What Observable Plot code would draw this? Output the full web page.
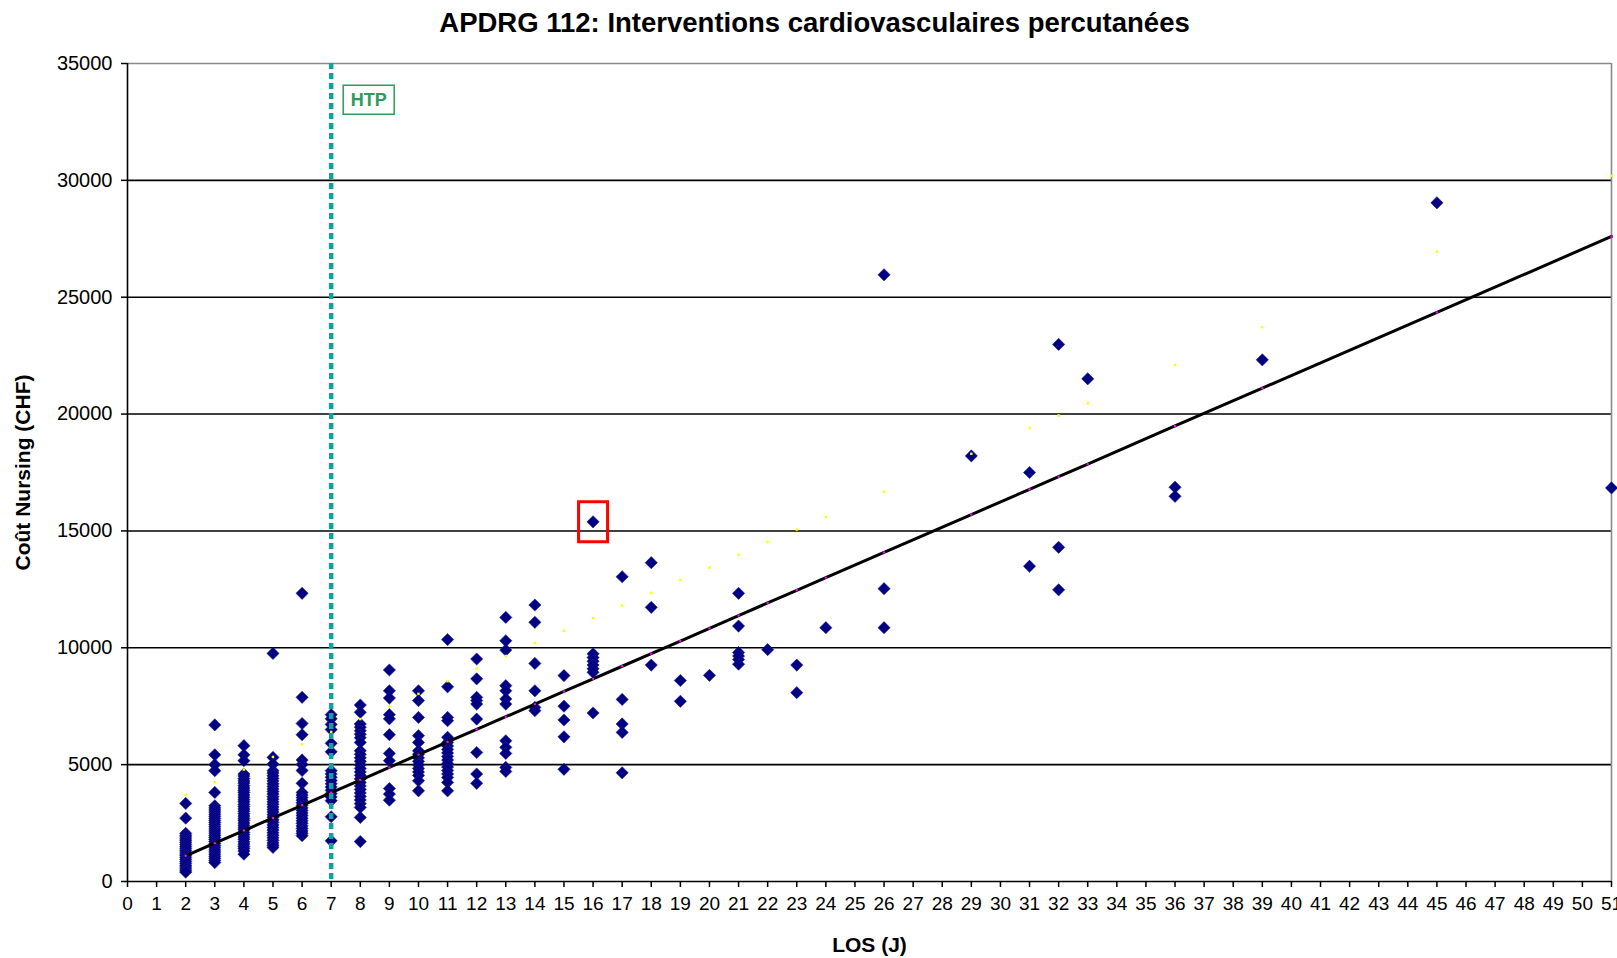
<!DOCTYPE html>
<html><head><meta charset="utf-8">
<script src="https://cdn.jsdelivr.net/npm/d3@7"></script>
<script src="https://cdn.jsdelivr.net/npm/@observablehq/plot@0.6"></script>
<style>
body{margin:0;background:#fff;}
#chart svg{font-family:"Liberation Sans",Arial,sans-serif;background:#fff;}
</style>
</head><body><div id="chart"></div>
<script>
const chartTitle = "APDRG 112: Interventions cardiovasculaires percutanées";
const xLabel = "LOS (J)";
const yLabel = "Coût Nursing (CHF)";
const htpLabel = "HTP";
const xTicks = [0,1,2,3,4,5,6,7,8,9,10,11,12,13,14,15,16,17,18,19,20,21,22,23,24,25,26,27,28,29,30,31,32,33,34,35,36,37,38,39,40,41,42,43,44,45,46,47,48,49,50,51];
const yTicks = [0,5000,10000,15000,20000,25000,30000,35000];

// observed stays: LOS (days) and the nursing costs read for each
const losDays = [2,3,4,5,6,7,8,9,10,11,12,13,14,15,16,17,18,19,20,21,22,23,24,26,29,31,32,33,36,39,45,51];
const nursingCost = [
  [3340,2710,2060,1980,1900,1820,1740,1660,1580,1500,1420,1340,1260,1180,1100,1020,940,860,780,700,620,540,460,400],
  [6700,5420,5000,4740,3810,3240,3150,3060,2970,2880,2790,2700,2610,2520,2430,2340,2250,2160,2070,1980,1890,1800,1710,1620,1530,1440,1350,1260,1170,1080,990,900,810],
  [5810,5420,5170,4600,4510,4400,4300,4210,4100,4000,3900,3810,3700,3600,3500,3410,3300,3200,3100,3010,2900,2800,2700,2610,2500,2400,2300,2210,2100,2000,1900,1810,1700,1600,1500,1410,1300,1170],
  [9760,5310,5020,4740,4640,4520,4410,4300,4180,4070,3960,3850,3740,3630,3520,3410,3300,3190,3080,2970,2860,2750,2640,2530,2420,2310,2200,2090,1980,1870,1760,1650,1550,1460],
  [12330,7880,6760,6280,5200,5010,4750,4200,3810,3700,3590,3480,3370,3260,3150,3040,2930,2820,2710,2600,2490,2380,2270,2160,2060,1960],
  [7140,6960,6720,6500,5910,5550,4740,4600,4460,4320,4180,4040,3900,3760,3620,3460,2770,1740],
  [7550,7240,6740,6600,6450,6300,6150,5950,5590,5440,5290,5140,4990,4840,4690,4540,4390,4240,4090,3940,3790,3640,3490,3330,3170,2740,1710],
  [9050,8160,7850,7140,6960,6280,5480,5170,3980,3740,3480],
  [8160,7740,7020,6240,5950,5590,5440,5290,5140,4990,4840,4690,4540,4310,3880],
  [10350,8330,7020,6880,6170,5950,5800,5650,5500,5350,5200,5050,4900,4750,4600,4450,4240,3880],
  [9520,8670,7880,7740,7590,6950,5520,4600,4200],
  [11300,10300,9900,8380,8160,7810,7590,6020,5740,5480,4880,4710],
  [11830,11090,9330,8160,7450,7310],
  [8810,7500,6910,6190,4800],
  [15390,9740,9580,9420,9260,9100,8950,7210],
  [13040,7790,6740,6380,4650],
  [13640,11730,9260],
  [8600,7710],
  [8820],
  [12330,10930,9800,9650,9500,9300],
  [9920],
  [9260,8080],
  [10860],
  [25960,12530,10860],
  [18210],
  [17500,13490],
  [22980,14300,12480],
  [21510],
  [16870,16480],
  [22320],
  [29040],
  [16840]
];

// fitted line (black) and upper series (small yellow points)
const fitLos   = [2,3,4,5,6,7,8,9,10,11,12,13,14,15,16,17,18,19,20,21,22,23,24,26,29,31,32,33,36,39,45,51];
const fitCost  = [1100,1640,2180,2720,3260,3800,4340,4880,5430,5970,6510,7050,7590,8130,8670,9210,9750,10290,10830,11380,11920,12460,13000,14080,15700,16780,17320,17860,19490,21110,24350,27600];
const upperCost= [3700,4250,4790,5330,5870,6400,6950,7490,8030,8570,9110,9650,10200,10730,11270,11810,12350,12890,13430,13980,14520,15060,15600,16680,18300,19400,19940,20460,22100,23720,26950,30200];

const htpLos = [7];
const highlightLos = [16];
const highlightCost = [15390];

const points = losDays.flatMap((d, i) => nursingCost[i].map(c => ({los: d, cost: c})));
const fit = fitLos.map((d, i) => ({los: d, cost: fitCost[i]}));
const upper = fitLos.map((d, i) => ({los: d, cost: upperCost[i]}));
const highlight = highlightLos.map((d, i) => ({los: d, cost: highlightCost[i]}));

const boxSymbol = {draw(ctx) { ctx.moveTo(-14.5,-20); ctx.lineTo(14.5,-20); ctx.lineTo(14.5,20); ctx.lineTo(-14.5,20); ctx.closePath(); }};

const chart = Plot.plot({
  width: 1617, height: 958,
  marginLeft: 127, marginRight: 6, marginTop: 63, marginBottom: 77,
  style: {fontFamily: '"Liberation Sans", Arial, sans-serif', fontSize: "20px", color: "#000", background: "#fff"},
  x: {domain: [0, 51]},
  y: {domain: [0, 35000]},
  marks: [
    Plot.ruleY(yTicks.filter(v => v > 0 && v < 35000), {stroke: "#000", strokeWidth: 1.6}),
    Plot.ruleY([35000], {stroke: "#8a8a8a", strokeWidth: 1.6}),
    Plot.ruleX([51], {stroke: "#8a8a8a", strokeWidth: 1.6}),
    Plot.axisX({ticks: xTicks, tickSize: 6, tickPadding: 9, tickFormat: d => String(d), label: null, strokeWidth: 1.5, fontSize: 19}),
    Plot.axisY({ticks: yTicks, tickSize: 6, tickPadding: 9, tickFormat: d => String(d), label: null, strokeWidth: 1.5, fontSize: 20}),
    Plot.ruleY([0], {stroke: "#000", strokeWidth: 1.6}),
    Plot.ruleX([0], {stroke: "#000", strokeWidth: 1.6}),
    Plot.dot(points, {x: "los", y: "cost", symbol: "diamond2", r: 5.5, fill: "#000080", stroke: "#1a1a9a", strokeWidth: 0.6}),
    Plot.dot(upper, {x: "los", y: "cost", symbol: "square", r: 1.4, fill: "#ffff00"}),
    Plot.line(fit, {x: "los", y: "cost", stroke: "#000", strokeWidth: 3}),
    Plot.dot(fit, {x: "los", y: "cost", r: 1.2, fill: "#ff00ff"}),
    Plot.ruleX(htpLos, {x: d => d, stroke: "#14a0a0", strokeWidth: 4.5, strokeDasharray: "6,4"}),
    Plot.text(htpLos, {x: d => d, frameAnchor: "top", lineAnchor: "middle", dy: 36.5, dx: 19.5, text: () => htpLabel, textAnchor: "start", fill: "#2e9a5c", fontWeight: "bold", fontSize: 18}),
    Plot.dot(highlight, {x: "los", y: "cost", symbol: boxSymbol, fill: "none", stroke: "#ff0000", strokeWidth: 3}),
    Plot.text([chartTitle], {text: d => d, frameAnchor: "top", lineAnchor: "middle", dy: -40, dx: -55, fontWeight: "bold", fontSize: 27.5}),
    Plot.text([xLabel], {text: d => d, frameAnchor: "bottom", lineAnchor: "middle", dy: 64, fontWeight: "bold", fontSize: 21}),
    Plot.text([yLabel], {text: d => d, frameAnchor: "left", textAnchor: "middle", lineAnchor: "middle", dx: -104, rotate: -90, fontWeight: "bold", fontSize: 21})
  ]
});
document.getElementById("chart").appendChild(chart);

// box around the HTP label
d3.select(chart).selectAll("text").filter(function() { return this.textContent === htpLabel; }).each(function() {
  const b = this.getBBox();
  d3.select(this.parentNode).insert("rect", () => this)
    .attr("x", b.x - 7.5).attr("y", b.y - 4.5).attr("width", b.width + 15).attr("height", b.height + 9)
    .attr("fill", "#fff").attr("stroke", "#2e9a5c").attr("stroke-width", 1.5)
    .attr("transform", this.getAttribute("transform"));
});
</script>
</body></html>
